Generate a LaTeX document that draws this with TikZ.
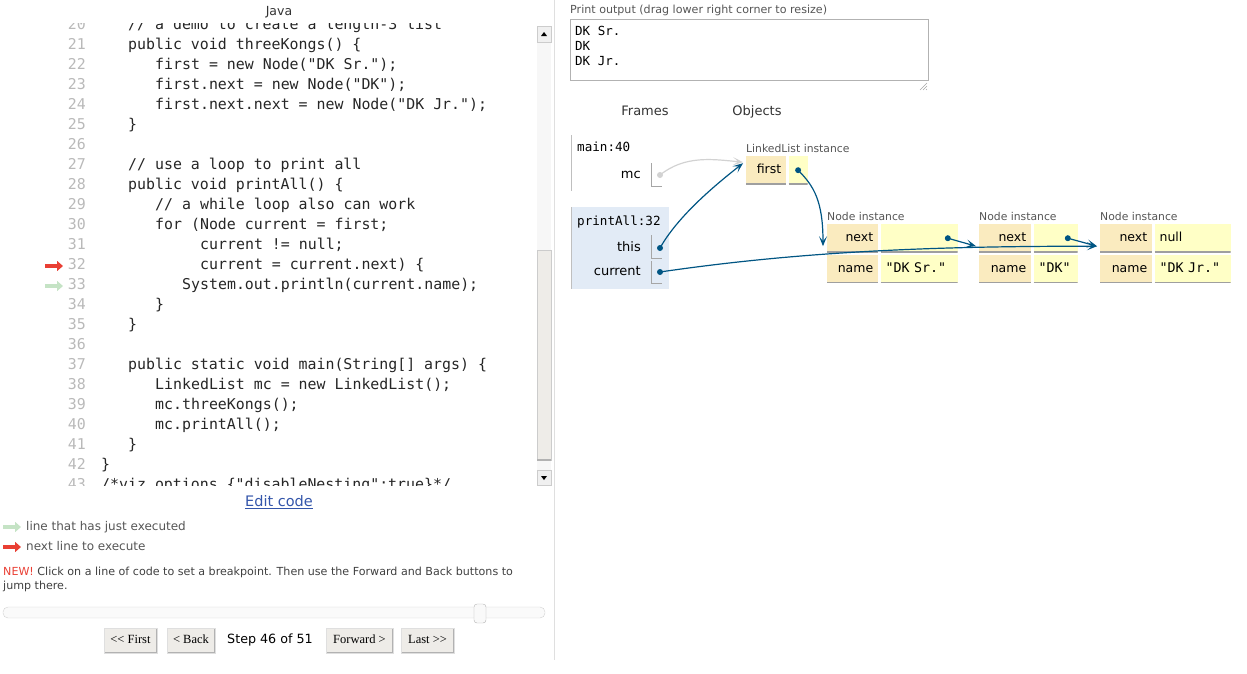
\documentclass[tikz,border=0pt]{standalone}
\usepackage{fontspec}
\setmainfont{DejaVu Sans}
\setmonofont{DejaVu Sans Mono}
\newfontfamily\btnfont{Liberation Serif}
\usetikzlibrary{arrows.meta,positioning}

\newcommand{\setfs}[1]{\fontsize{#1}{#1}\selectfont}

\definecolor{keycol}{RGB}{250,235,191}
\definecolor{valcol}{RGB}{255,255,198}
\definecolor{ptrcol}{RGB}{0,85,131}
\definecolor{framecol}{RGB}{226,235,246}
\definecolor{nextred}{RGB}{233,63,52}
\definecolor{donegreen}{RGB}{197,227,197}
\definecolor{linkblue}{RGB}{51,85,170}
\definecolor{softgray}{RGB}{85,85,85}
\definecolor{btncol}{RGB}{238,236,232}

\tikzset{
  txt/.style={inner sep=0pt, text height=1.5ex, text depth=.25ex},
  codeline/.style={txt, anchor=west, font=\ttfamily\setfs{14.9}, text=black!85},
  lineno/.style={txt, anchor=east, font=\ttfamily\setfs{14.9}, text=gray!55},
  smalltxt/.style={txt, anchor=west, font=\setfs{11.1}, text=softgray},
  objlabel/.style={txt, anchor=west, font=\setfs{10.8}, text=softgray},
  framehdr/.style={txt, anchor=west, font=\ttfamily\setfs{12.6}},
  varname/.style={txt, anchor=east, font=\setfs{13}},
  fieldkey/.style={txt, font=\setfs{12.5}, fill=keycol, inner xsep=5pt,
    minimum height=28pt, align=right,
    path picture={\draw[gray!75, line width=2pt] (path picture bounding box.south west) -- (path picture bounding box.south east);}},
  fieldval/.style={fieldkey, fill=valcol, align=left},
  ptrdot/.style={circle, fill=ptrcol, inner sep=0pt, minimum size=6pt},
  ptr/.style={draw=ptrcol, line width=1.2pt, -{Stealth[length=10pt,width=8pt,inset=5pt]}},
  execarrow/.style={line width=3.5pt, -{Triangle[length=6pt,width=10pt]}},
  btn/.style={txt, font=\btnfont\setfs{12.5}, fill=btncol, draw=gray!25, minimum height=25pt, inner xsep=0pt,
    path picture={\draw[gray!60, line width=3pt] (path picture bounding box.south west) -- (path picture bounding box.south east) -- (path picture bounding box.north east);}}
}

\begin{document}
\begin{tikzpicture}[x=1pt,y=1pt]
    \useasboundingbox (0,0) rectangle (1247,-673);

    % Editor title
    \node[txt, font=\setfs{12.5}, text=black!80] (java) at (279,-12) {Java};

    % Code lines, clipped to the editor window
    \begin{scope}
    \clip (0,-23) rectangle (537,-485);
    \foreach \n in {20,...,43}
        \node[lineno] (n\n) at (86,{-46-(\n-21)*20}) {\n};
    \node[codeline] (c20) at (128,-26) {// a demo to create a length-3 list};
    \node[codeline] (c21) at (128,-46) {public void threeKongs() \{};
    \node[codeline] (c22) at (155,-66) {first = new Node("DK Sr.");};
    \node[codeline] (c23) at (155,-86) {first.next = new Node("DK");};
    \node[codeline] (c24) at (155,-106) {first.next.next = new Node("DK Jr.");};
    \node[codeline] (c25) at (128,-126) {\}};
    \node[codeline] (c27) at (128,-166) {// use a loop to print all};
    \node[codeline] (c28) at (128,-186) {public void printAll() \{};
    \node[codeline] (c29) at (155,-206) {// a while loop also can work};
    \node[codeline] (c30) at (155,-226) {for (Node current = first;};
    \node[codeline] (c31) at (200,-246) {current != null;};
    \node[codeline] (c32) at (200,-266) {current = current.next) \{};
    \node[codeline] (c33) at (182,-286) {System.out.println(current.name);};
    \node[codeline] (c34) at (155,-306) {\}};
    \node[codeline] (c35) at (128,-326) {\}};
    \node[codeline] (c37) at (128,-366) {public static void main(String[] args) \{};
    \node[codeline] (c38) at (155,-386) {LinkedList mc = new LinkedList();};
    \node[codeline] (c39) at (155,-406) {mc.threeKongs();};
    \node[codeline] (c40) at (155,-426) {mc.printAll();};
    \node[codeline] (c41) at (128,-446) {\}};
    \node[codeline] (c42) at (101,-466) {\}};
    \node[codeline] (c43) at (101,-486) {/*viz\_options \{"disableNesting":true\}*/};
    \end{scope}

    % Line markers
    \draw[execarrow, nextred] (45,-266) -- (63,-266);
    \draw[execarrow, donegreen] (45,-286) -- (63,-286);

    % Scroll bar
    \fill[gray!6] (537,-26) rectangle (551,-485);
    \filldraw[fill=gray!12, draw=gray!40] (537,-26) rectangle (551,-42);
    \fill (541,-36) -- (547,-36) -- (544,-32) -- cycle;
    \filldraw[fill=btncol, draw=gray!40] (537,-250) rectangle (551,-460);
    \draw[gray!60, line width=1.5pt] (537,-460) -- (551,-460);
    \filldraw[fill=gray!12, draw=gray!40] (537,-470) rectangle (551,-485);
    \fill (541,-476) -- (547,-476) -- (544,-480) -- cycle;

    % Panel divider
    \draw[gray!25] (554,0) -- (554,-660);

    % Legend and controls
    \node[txt, font=\setfs{14.5}, text=linkblue] (editcode) at (279,-503) {\underline{Edit code}};
    \draw[execarrow, donegreen] (3,-527) -- (21,-527);
    \node[txt, anchor=west, font=\setfs{12}, text=softgray] (legdone) at (26,-527) {line that has just executed};
    \draw[execarrow, nextred] (3,-547) -- (21,-547);
    \node[txt, anchor=west, font=\setfs{12}, text=softgray] (legnext) at (26,-547) {next line to execute};
    \node[anchor=north west, inner sep=0pt, align=left, font=\fontsize{11.1}{14}\selectfont, text=black!75] (newnote) at (3,-567)
        {\textcolor{nextred}{NEW!} Click on a line of code to set a breakpoint. Then use the Forward and Back buttons to\\jump there.};

    % Step slider
    \filldraw[fill=gray!4, draw=gray!35, rounded corners=5pt] (3,-607) rectangle (545,-618);
    \filldraw[fill=gray!5, draw=gray!60, rounded corners=3pt] (474,-604) rectangle (486,-623);

    % Step buttons
    \node[btn, minimum width=53pt] (bfirst) at (130.5,-640.5) {<\kern0pt< First};
    \node[btn, minimum width=48pt] (bback) at (191,-640.5) {< Back};
    \node[txt, font=\setfs{12.7}] (step) at (270,-640) {Step 46 of 51};
    \node[btn, minimum width=67pt] (bfwd) at (359.5,-640.5) {Forward >};
    \node[btn, minimum width=53pt] (blast) at (427.5,-640.5) {Last >\kern0pt>};

    % Print output
    \node[smalltxt] (outlab) at (570,-10) {Print output (drag lower right corner to resize)};
    \node[draw=gray!60, line width=0.8pt, minimum width=358pt, minimum height=61pt, anchor=north west, inner sep=0pt] (outbox) at (570,-19) {};
    \node[txt, anchor=west, font=\ttfamily\setfs{12.5}] (out1) at (575,-32) {DK Sr.};
    \node[txt, anchor=west, font=\ttfamily\setfs{12.5}] (out2) at (575,-47) {DK};
    \node[txt, anchor=west, font=\ttfamily\setfs{12.5}] (out3) at (575,-62) {DK Jr.};
    \draw[gray!70] (920,-90) -- (927,-83) (923,-90) -- (927,-86) (926,-90) -- (927,-89);

    % Headers
    \node[txt, font=\setfs{13}, text=black!80] (frames) at (645,-112) {Frames};
    \node[txt, font=\setfs{13}, text=black!80] (objects) at (757,-112) {Objects};

    % Stack frames
    \draw[gray!50] (571,-135) -- (571,-191);
    \node[framehdr] (mainhdr) at (577,-148) {main:40};
    \node[varname] (mcvar) at (641,-175) {mc};
    \draw[gray!70] (651,-163) |- (662,-186);
    \node[ptrdot, fill=gray!35] (mcdot) at (660,-175) {};

    \fill[framecol] (571,-207) rectangle (669,-289);
    \draw[gray!50] (571,-207) -- (571,-289);
    \node[framehdr] (prhdr) at (577,-222) {printAll:32};
    \node[varname] (thisvar) at (641,-248) {this};
    \draw[gray!70] (651,-235) |- (662,-258);
    \node[ptrdot] (thisdot) at (660,-248) {};
    \node[varname] (curvar) at (641,-272) {current};
    \draw[gray!70] (651,-261) |- (662,-283);
    \node[ptrdot] (curdot) at (660,-272) {};

    % LinkedList instance
    \node[fieldkey, text width=30pt, anchor=north west] (llfirst) at (746,-156) {first};
    \node[fieldval, minimum width=19pt, right=2pt of llfirst] (llval) {};
    \node[ptrdot] (lldot) at (llval.center) {};
    \node[objlabel, anchor=south west, inner ysep=2pt] (lllab) at (llfirst.north west) {LinkedList instance};

    % Node instances
    \node[fieldkey, text width=41pt, anchor=north west] (n1next) at (827,-224) {next};
    \node[fieldval, minimum width=77pt, right=2pt of n1next] (n1nextv) {};
    \node[fieldkey, text width=41pt, below=2pt of n1next] (n1name) {name};
    \node[fieldval, text width=67pt, right=2pt of n1name, font=\ttfamily\setfs{13.3}] (n1namev) {"DK Sr."};
    \node[ptrdot] (d1) at ([xshift=-10pt]n1nextv.east) {};
    \node[objlabel, anchor=south west, inner ysep=2pt] (n1lab) at (n1next.north west) {Node instance};

    \node[fieldkey, text width=42pt, anchor=north west] (n2next) at (979,-224) {next};
    \node[fieldval, minimum width=44pt, right=2pt of n2next] (n2nextv) {};
    \node[fieldkey, text width=42pt, below=2pt of n2next] (n2name) {name};
    \node[fieldval, text width=34pt, right=2pt of n2name, font=\ttfamily\setfs{13.3}] (n2namev) {"DK"};
    \node[ptrdot] (d2) at ([xshift=-10pt]n2nextv.east) {};
    \node[objlabel, anchor=south west, inner ysep=2pt] (n2lab) at (n2next.north west) {Node instance};

    \node[fieldkey, text width=42pt, anchor=north west] (n3next) at (1100,-224) {next};
    \node[fieldval, text width=66pt, right=2pt of n3next] (n3nextv) {null};
    \node[fieldkey, text width=42pt, below=2pt of n3next] (n3name) {name};
    \node[fieldval, text width=66pt, right=2pt of n3name, font=\ttfamily\setfs{13.3}] (n3namev) {"DK Jr."};
    \node[objlabel, anchor=south west, inner ysep=2pt] (n3lab) at (n3next.north west) {Node instance};

    % Arrow ends
    \coordinate (llin) at ([shift={(-3pt,8pt)}]llfirst.west);
    \coordinate (n1in) at ([shift={(-4pt,-8pt)}]n1next.west);
    \coordinate (n2in) at ([shift={(-3pt,-8pt)}]n2next.west);
    \coordinate (n3in) at ([shift={(-3pt,-8pt)}]n3next.west);

    % Pointers
    \draw[ptr, draw=gray!35] (mcdot.center) .. controls +(25,20) and +(-30,3) .. (llin);
    \draw[ptr] (thisdot.center) .. controls +(18,32) and +(-28,-22) .. ([yshift=-1pt]llin);
    \draw[ptr] (lldot.center) .. controls +(16,-16) and +(0,45) .. (n1in);
    \draw[ptr] (d1.center) -- (n2in);
    \draw[ptr] (d2.center) -- (n3in);
    \draw[ptr] (curdot.center) .. controls +(150,22) and +(-150,0) .. (n3in);

\end{tikzpicture}
\end{document}
